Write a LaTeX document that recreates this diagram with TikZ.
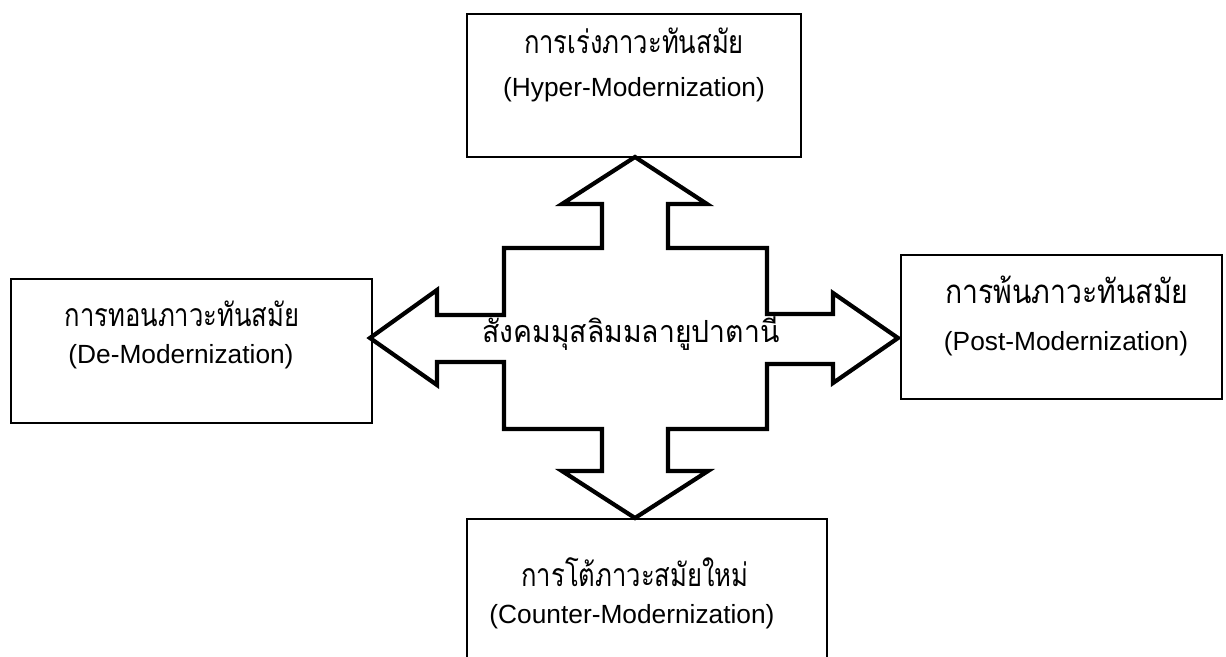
\documentclass[tikz,border=0pt]{standalone}
\usepackage{fontspec}
\setmainfont{Liberation Sans}
\newfontfamily\thaifont[Script=Thai,FakeStretch=0.8]{Loma}
\newfontfamily\thaiwide[Script=Thai,FakeStretch=0.86]{Loma}
\newfontfamily\thaicenter[Script=Thai,FakeStretch=0.93]{Loma}
\begin{document}
\begin{tikzpicture}[x=1pt,y=-1pt,
  box/.style={draw=black,line width=2pt,minimum width=#1,inner sep=0pt},
  th/.style={anchor=base,font=\thaifont\fontsize{32}{38}\selectfont},
  thw/.style={anchor=base,font=\thaiwide\fontsize{33}{38}\selectfont},
  thc/.style={anchor=base,font=\thaicenter\fontsize{30.5}{36}\selectfont},
  en/.style={anchor=base,font=\fontsize{26.3}{30}\selectfont},
  cross/.style={draw=black,line width=4.2pt,line join=miter,miter limit=10}]
\useasboundingbox (0,0) rectangle (1226,656);
\clip (0,0) rectangle (1226,656);
\fill[white] (0,0) rectangle (1226,656);
% boxes
\node[box=334pt,minimum height=143pt] (top) at (634,85.5) {};
\node[box=361pt,minimum height=144pt] (left) at (191.5,351) {};
\node[box=321pt,minimum height=144pt] (right) at (1061.5,327) {};
\node[box=360pt,minimum height=143pt] (bottom) at (647,590.5) {};
% cross arrow
\draw[cross] (635,157) -- (707,204) -- (668,204) -- (668,248) -- (767,248) -- (767,314)
  -- (833,314) -- (833,293) -- (898,338) -- (833,383) -- (833,364) -- (767,364)
  -- (767,429) -- (668,429) -- (668,471) -- (708,471) -- (635,518) -- (562,471)
  -- (602,471) -- (602,429) -- (504,429) -- (504,362) -- (437,362) -- (437,385)
  -- (370,338) -- (437,290) -- (437,315) -- (504,315) -- (504,248) -- (602,248)
  -- (602,204) -- (562,204) -- cycle;
% texts
\node[th] (topth) at (634,53) {การเร่งภาวะทันสมัย};
\node[en] (topen) at (634,96) {(Hyper-Modernization)};
\node[th] (leftth) at (182,326) {การทอนภาวะทันสมัย};
\node[en] (leften) at (181,363) {(De-Modernization)};
\node[thw] (rightth) at (1067,303) {การพ้นภาวะทันสมัย};
\node[en] (righten) at (1066,350) {(Post-Modernization)};
\node[th] (botth) at (635,586) {การโต้ภาวะสมัยใหม่};
\node[en] (boten) at (632,623) {(Counter-Modernization)};
\node[thc] (center) at (631,342) {สังคมมุสลิมมลายูปาตานี};
\end{tikzpicture}
\end{document}
